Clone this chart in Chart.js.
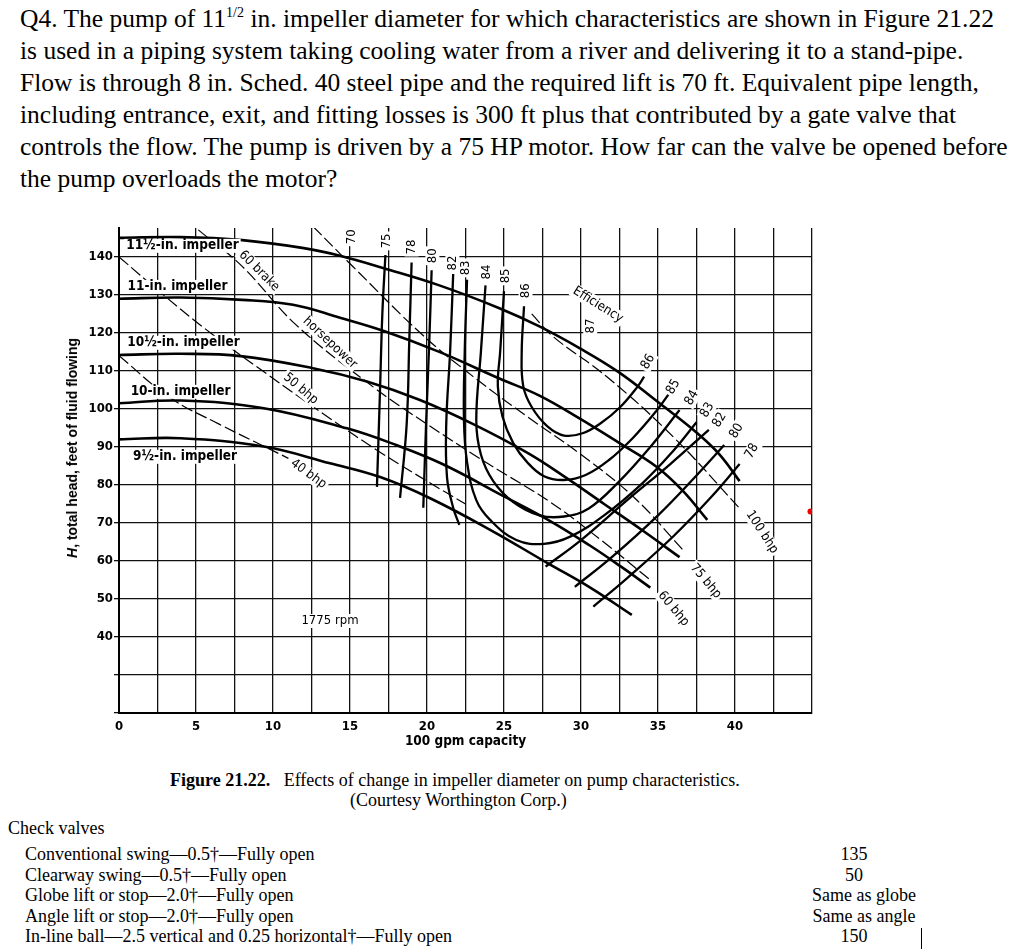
<!DOCTYPE html>
<html>
<head>
<meta charset="utf-8">
<script src="https://cdn.jsdelivr.net/npm/chart.js@4.4.0/dist/chart.umd.min.js"></script>
<style>
  body { margin: 0; width: 1024px; height: 952px; background: #fff; position: relative; overflow: hidden;
         font-family: 'Liberation Serif', 'Times New Roman', serif; color: #000; }
  #pergunta { position: absolute; left: 20px; top: 3px; font-size: 25.5px; line-height: 32px; white-space: nowrap; }
  #pergunta sup { font-size: 14px; vertical-align: 10px; line-height: 0; }
  #grafico { position: absolute; left: 0; top: 210px; }
  #tituloY { position: absolute; left: 72px; top: 448px; transform: translate(-50%, -50%) rotate(-90deg);
             font: bold 14px 'Liberation Sans', Arial, sans-serif; white-space: nowrap; }
  .leg { position: absolute; font-size: 18px; white-space: nowrap; }
  .lin { position: absolute; white-space: nowrap; font-size: 18px; }
  .dir { position: absolute; width: 200px; text-align: center; white-space: nowrap; font-size: 18px; }
  #cursor { position: absolute; left: 921px; top: 928px; width: 1px; height: 21px; background: #000; }
</style>
</head>
<body>

<div id="pergunta">
Q4. The pump of 11<sup>1/2</sup> in. impeller diameter for which characteristics are shown in Figure 21.22<br>
is used in a piping system taking cooling water from a river and delivering it to a stand-pipe.<br>
Flow is through 8 in. Sched. 40 steel pipe and the required lift is 70 ft. Equivalent pipe length,<br>
including entrance, exit, and fitting losses is 300 ft plus that contributed by a gate valve that<br>
controls the flow. The pump is driven by a 75 HP motor. How far can the valve be opened before<br>
the pump overloads the motor?
</div>

<canvas id="grafico" width="840" height="560"></canvas>
<div id="tituloY"><i>H</i>, total head, feet of fluid flowing</div>

<div class="leg" style="left:170px; top:770px;"><b>Figure 21.22.</b>&nbsp;&nbsp; Effects of change in impeller diameter on pump characteristics.</div>
<div class="leg" style="left:350px; top:790px;">(Courtesy Worthington Corp.)</div>

<div class="lin" style="left:8px; top:818px;">Check valves</div>
<div class="lin" style="left:25px; top:844px;">Conventional swing—0.5†—Fully open</div>
<div class="lin" style="left:25px; top:865px;">Clearway swing—0.5†—Fully open</div>
<div class="lin" style="left:25px; top:885px;">Globe lift or stop—2.0†—Fully open</div>
<div class="lin" style="left:25px; top:906px;">Angle lift or stop—2.0†—Fully open</div>
<div class="lin" style="left:25px; top:926px;">In-line ball—2.5 vertical and 0.25 horizontal†—Fully open</div>
<div class="dir" style="left:754px; top:844px;">135</div>
<div class="dir" style="left:754px; top:865px;">50</div>
<div class="dir" style="left:764px; top:885px;">Same as globe</div>
<div class="dir" style="left:764px; top:906px;">Same as angle</div>
<div class="dir" style="left:754px; top:926px;">150</div>
<div id="cursor"></div>

<script>
// eixos (capacidade em 100 gpm, altura em ft)
var ticksX = [0, 2.5, 5, 7.5, 10, 12.5, 15, 17.5, 20, 22.5, 25, 27.5, 30, 32.5, 35, 37.5, 40, 42.5, 45];
var ticksY = [20, 30, 40, 50, 60, 70, 80, 90, 100, 110, 120, 130, 140];

// curvas de altura por diametro do rotor
var rotor115 = [[0,145],[4,145.2],[8,144.4],[12,142.3],[14.35,140.3],[17.2,137],[20.8,132.5],[24.7,126.5],[27.3,121.7],[29.9,116],[32.4,109.8],[35,101.8],[37.5,93.8],[39,88],[40.3,81]];
var rotor110 = [[0,129],[4,129.3],[8,128.7],[11.3,127.4],[14.35,124],[17.2,120.5],[20.8,115],[24.7,108],[27.3,103.5],[29.9,97.5],[32.5,91],[34.9,84.8],[36.6,78.5],[38.2,70.8]];
var rotor105 = [[0,114.2],[4,114.5],[7.9,113.9],[12.6,110.7],[16.1,107.2],[19.5,102.4],[23,96],[26.5,88.5],[29,82],[31.5,75],[34,68],[36.4,61]];
var rotor100 = [[0,101.5],[4,102.2],[9.4,100.2],[14.8,94.9],[18,90.5],[21,85.5],[25,77],[28,70.5],[30.6,64],[32.6,58.5],[34.5,53]];
var rotor095 = [[0,92],[4,92.3],[9.4,90.1],[13.7,85.7],[17,82],[20.2,76.5],[24.1,68.2],[27.8,59.5],[30.6,53],[33.3,45.8]];

// curvas de eficiencia (%)
var efic75 = [[17.3,140.5],[17.1,125],[16.95,105],[16.75,79.5]];
var efic78 = [[19.0,138.5],[18.85,118],[18.68,96],[18.25,76.6]];
var efic80 = [[20.3,136.5],[20.15,118],[19.94,96],[19.76,74]];
var efic82 = [[21.7,135.5],[21.5,115],[21.25,96],[21.3,82],[21.7,74],[22.1,69.5]];
var efic83 = [[22.6,134],[22.45,115],[22.4,97],[22.6,86],[23.2,76],[24.1,70.8],[25.8,65.5],[27.6,64.5],[29.3,66.4],[31.5,72],[34,80.5],[36,89],[37.5,96.5]];
var efic84 = [[23.8,132.5],[23.5,115],[23.2,97],[23.5,88],[24.3,81],[25.6,75.5],[27.3,72],[28.9,71.7],[30.5,73.8],[32.5,81],[34.5,90],[36.4,99.7]];
var efic85 = [[25.0,131],[24.75,115],[24.6,106],[24.9,98],[25.6,91],[26.5,86],[27.6,82.3],[28.9,81.3],[30.3,82.6],[31.8,86.5],[33.4,92.5],[34.9,99.5],[35.8,104.5]];
var efic86 = [[26.3,127],[26.15,115],[26.25,106],[26.8,100.5],[27.8,95.5],[28.9,93],[30.1,93.6],[31.3,96.3],[32.5,100.3],[33.7,106],[34.1,108.5]];
var efic82b = [[27.7,58.5],[30,65.5],[33,76],[35.8,85.5],[38.3,94.5]];
var efic80b = [[29.6,53.2],[32,61],[35,72],[37.5,82.5],[39.3,90.5]];
var efic78b = [[30.8,48],[33,55.5],[36,66.5],[38.5,77],[40.3,85.5]];

// linhas de potencia (bhp)
var bhp40 = [[0,114],[3.3,103],[6.5,96],[9.5,90],[11,87]];
var bhp50 = [[0,140],[3,129.6],[6.1,119.5],[9.5,109.5],[13.7,97.5],[17,88.5],[20,81],[22.5,75]];
var bhp60 = [[5.15,147.1],[8,137.5],[11.5,122.1],[16.5,105.8],[20,96],[24,85.5],[28,75.5],[31.3,65.5],[34.5,55]];
var bhp75 = [[12.6,148],[15.2,137.4],[19.7,119.5],[23,108.5],[26.5,98],[30,88],[33.5,76.5],[36.6,63]];
var bhp100 = [[26.8,125],[28.2,119],[31.7,108.4],[36,92.6],[40.4,73.4]];

var pontoVermelho = [[44.9,73]];

// rotulos dentro do grafico: texto, x, y, giro
var rotulos = [
  ['11½-in. impeller', 4.12, 142.9, 0],
  ['11-in. impeller', 3.8, 132.1, 0],
  ['10½-in. impeller', 4.19, 117.4, 0],
  ['10-in. impeller', 4.0, 104.5, 0],
  ['9½-in. impeller', 4.29, 87.4, 0],
  ['70', 15.1, 145.3, -90], ['75', 17.4, 144.2, -90], ['78', 19.0, 142.6, -90],
  ['80', 20.35, 140.3, -90], ['82', 21.65, 138.4, -90], ['83', 22.5, 137.1, -90],
  ['84', 23.9, 136, -90], ['85', 25.1, 135, -90], ['86', 26.4, 131.1, -90], ['87', 30.6, 121.8, -90],
  ['Efficiency', 31.1, 127.4, 32],
  ['86', 34.35, 112.4, -60], ['85', 36, 105.8, -60], ['84', 37.2, 102.9, -60], ['83', 38.2, 99.7, -60],
  ['82', 39, 97.1, -60], ['80', 40.1, 94.2, -60], ['78', 41.1, 88.9, -60],
  ['100 bhp', 41.75, 67.6, 57], ['75 bhp', 38.1, 54.7, 50], ['60 bhp', 36, 47.4, 50],
  ['60 brake', 9.1, 136.3, 45], ['horsepower', 13.7, 117.4, 43], ['50 bhp', 11.8, 105.3, 40], ['40 bhp', 12.3, 82.9, 36],
  ['1775 rpm', 13.7, 44.2, 0]
];

var fonteGrafico = "'Liberation Sans Narrow', 'DejaVu Sans Condensed', sans-serif";

function pontos(lista) {
  return lista.map(function (p) { return { x: p[0], y: p[1] }; });
}

function curva(lista, largura, tracejado) {
  return {
    data: pontos(lista),
    showLine: true,
    borderColor: '#000',
    borderWidth: largura,
    borderDash: tracejado || [],
    pointRadius: 0,
    tension: 0.4,
    fill: false
  };
}

const pluginRotulos = {
  id: 'rotulos',
  afterDatasetsDraw(chart) {
    const ctx = chart.ctx;
    const sx = chart.scales.x, sy = chart.scales.y;
    rotulos.forEach(function (r) {
      const px = sx.getPixelForValue(r[1]);
      const py = sy.getPixelForValue(r[2]);
      ctx.save();
      ctx.translate(px, py);
      ctx.rotate(r[3] * Math.PI / 180);
      ctx.font = (r[3] === 0 && r[0].indexOf('impeller') >= 0 ? 'bold 13.5px ' : '13px ') + fonteGrafico;
      const w = ctx.measureText(r[0]).width;
      ctx.fillStyle = '#fff';
      ctx.fillRect(-w / 2 - 2, -7, w + 4, 14);
      ctx.fillStyle = '#000';
      ctx.textAlign = 'center';
      ctx.textBaseline = 'middle';
      ctx.fillText(r[0], 0, 0);
      ctx.restore();
    });
  }
};

var traco = [12, 4];
var conjuntos = [
  curva(bhp40, 1.2, traco), curva(bhp50, 1.2, traco), curva(bhp60, 1.2, traco),
  curva(bhp75, 1.2, traco), curva(bhp100, 1.2, traco),
  curva(efic75, 2.3), curva(efic78, 2.3), curva(efic80, 2.3), curva(efic82, 2.3),
  curva(efic83, 2.3), curva(efic84, 2.3), curva(efic85, 2.3), curva(efic86, 2.3),
  curva(efic82b, 2.3), curva(efic80b, 2.3), curva(efic78b, 2.3),
  curva(rotor115, 2.6), curva(rotor110, 2.6), curva(rotor105, 2.6), curva(rotor100, 2.6), curva(rotor095, 2.6),
  { data: pontos(pontoVermelho), pointRadius: 3, pointBackgroundColor: '#e00', pointBorderWidth: 0, showLine: false }
];

const ctx = document.getElementById('grafico');

const myChart = new Chart(ctx, {
  type: 'scatter',
  data: { datasets: conjuntos },
  plugins: [pluginRotulos],
  options: {
    responsive: false,
    animation: false,
    layout: { padding: { top: 18, right: 28, left: 0, bottom: 0 } },
    plugins: { legend: { display: false }, tooltip: { enabled: false } },
    scales: {
      x: {
        type: 'linear',
        min: 0,
        max: 45,
        afterBuildTicks: function (eixo) { eixo.ticks = ticksX.map(function (v) { return { value: v }; }); },
        afterFit: function (eixo) { eixo.height = 57; },
        grid: { color: '#111', lineWidth: 1.3, drawTicks: false },
        border: { color: '#000', width: 2 },
        ticks: {
          padding: 6,
          maxRotation: 0,
          autoSkip: false,
          color: '#000',
          font: { family: fonteGrafico, size: 13, weight: 'bold' },
          callback: function (v) { return (v % 5 === 0 && v <= 40) ? v : ''; }
        },
        title: {
          display: true,
          text: '100 gpm capacity',
          color: '#000',
          font: { family: fonteGrafico, size: 13.5, weight: 'bold' },
          padding: { top: 0, bottom: 20 }
        }
      },
      y: {
        type: 'linear',
        min: 20,
        max: 147.6,
        afterBuildTicks: function (eixo) { eixo.ticks = ticksY.map(function (v) { return { value: v }; }); },
        afterFit: function (eixo) { eixo.width = 119; },
        grid: { color: '#111', lineWidth: 1.3, tickLength: 5 },
        border: { color: '#000', width: 2 },
        ticks: {
          padding: 1,
          autoSkip: false,
          color: '#000',
          font: { family: fonteGrafico, size: 13, weight: 'bold' },
          callback: function (v) { return v >= 40 ? v : ''; }
        }
      }
    }
  }
});
</script>
</body>
</html>
